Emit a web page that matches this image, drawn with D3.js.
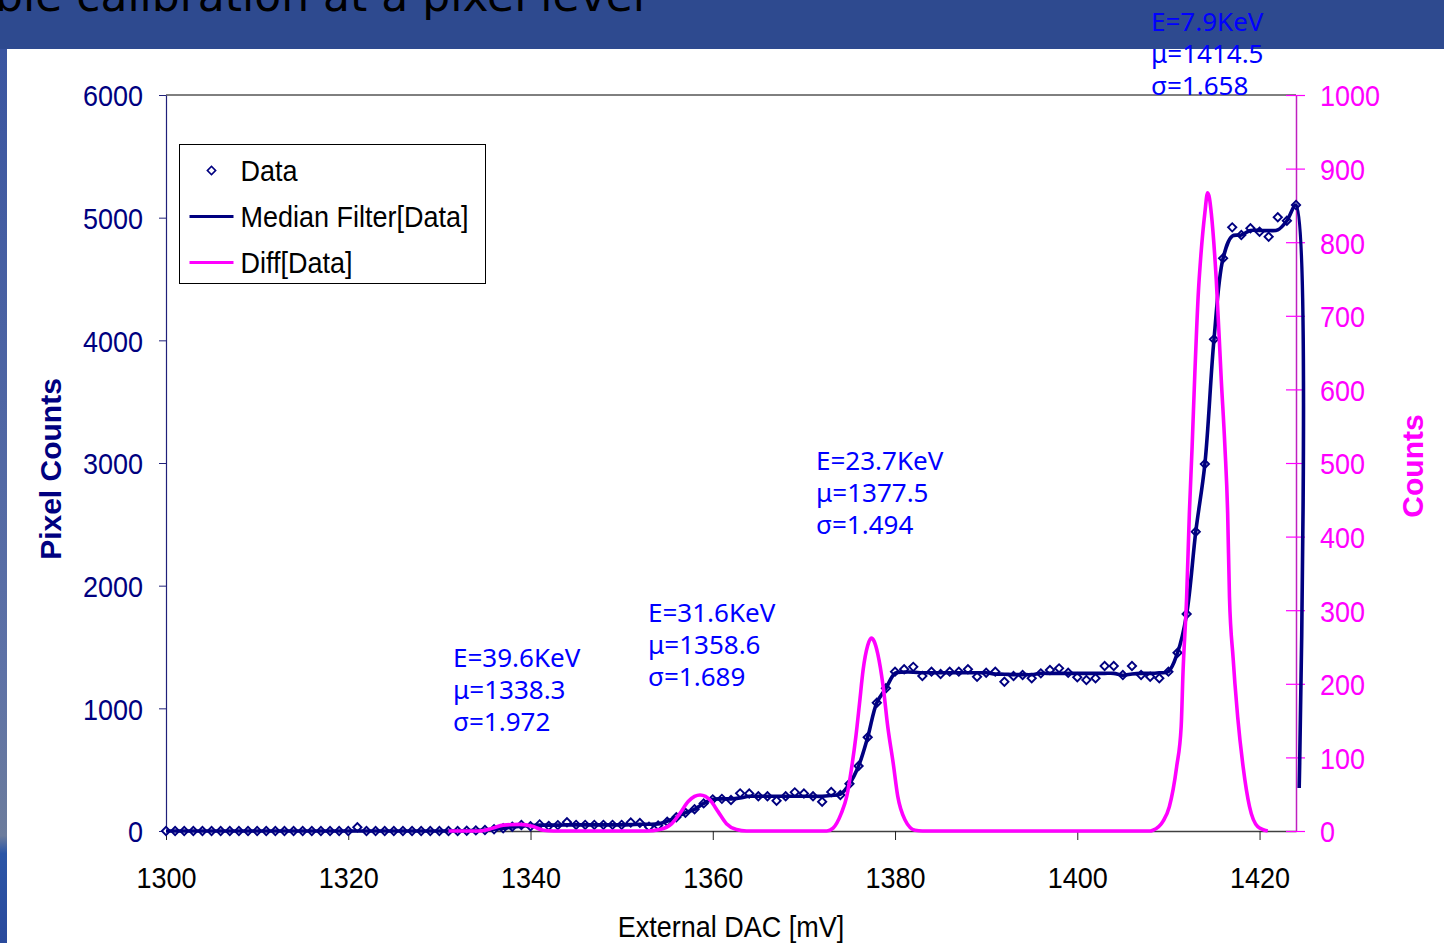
<!DOCTYPE html>
<html>
<head>
<meta charset="utf-8">
<script src="https://cdn.jsdelivr.net/npm/d3@7"></script>
<style>
  body { margin: 0; background: #fff; }
  svg { display: block; }
</style>
</head>
<body>
<svg id="chart" width="1444" height="943"></svg>
<script>
// ---- data ----
const xTicks = [1300, 1320, 1340, 1360, 1380, 1400, 1420]
const leftTicks = [0, 1000, 2000, 3000, 4000, 5000, 6000]
const rightTicks = [0, 100, 200, 300, 400, 500, 600, 700, 800, 900, 1000]

// DAC scan, one point per mV
const dac = d3.range(1300, 1425)

const dataCounts = [
  0, 0, 0, 0, 0, 0, 0, 0, 0, 0,
  0, 0, 0, 0, 0, 0, 0, 0, 0, 0,
  0, 30, 0, 0, 0, 0, 0, 0, 0, 0,
  0, 0, 0, 2, 5, 8, 14, 22, 35, 49,
  38, 54, 42, 48, 71, 50, 50, 50, 50, 50,
  50, 69, 66, 35, 45, 76, 112, 149, 177, 225,
  258, 262, 253, 307, 305, 283, 283, 247, 283, 315,
  305, 283, 239, 318, 293, 385, 530, 764, 1046, 1163,
  1299, 1318, 1338, 1264, 1299, 1280, 1299, 1299, 1318, 1258,
  1290, 1299, 1217, 1264, 1272, 1245, 1285, 1312, 1326, 1290,
  1253, 1231, 1245, 1345, 1345, 1272, 1345, 1272, 1258, 1245,
  1299, 1453, 1769, 2440, 2992, 4008, 4669, 4921, 4859, 4913,
  4885, 4845, 5003, 4975, 5103
]

const medianCounts = [
  0, 0, 0, 0, 0, 0, 0, 0, 0, 0,
  0, 0, 0, 0, 0, 0, 0, 0, 0, 0,
  0, 0, 0, 0, 0, 0, 0, 0, 0, 0,
  0, 0, 0, 2, 5, 8, 14, 22, 33, 40,
  45, 48, 48, 48, 50, 50, 50, 50, 50, 50,
  50, 52, 55, 55, 58, 80, 112, 149, 177, 225,
  258, 262, 262, 270, 283, 283, 283, 283, 283, 283,
  283, 283, 283, 290, 300, 385, 530, 764, 1046, 1163,
  1285, 1295, 1295, 1290, 1290, 1290, 1290, 1290, 1290, 1290,
  1290, 1280, 1278, 1275, 1275, 1275, 1285, 1285, 1285, 1285,
  1285, 1285, 1285, 1285, 1285, 1270, 1280, 1285, 1285, 1290,
  1300, 1453, 1769, 2440, 2992, 4008, 4669, 4850, 4859, 4895,
  4895, 4895, 4900, 4975, 5103
]
// the filtered curve falls off just past the last DAC step
const medianTail = [[1424.35, 350]]

// Diff[Data] (right axis)
const diffPoints = [
  [1331, 0], [1334.4, 0], [1335.9, 4], [1337.0, 8], [1338.8, 9], [1340.3, 6], [1341.4, 1], [1342.5, 0],
  [1352.7, 0], [1354.2, 2], [1355.5, 10], [1356.4, 24], [1357.3, 40], [1358.0, 47], [1358.6, 49],
  [1359.2, 47], [1359.7, 42], [1360.6, 26], [1361.5, 10], [1362.6, 2], [1363.7, 0],
  [1372.5, 0], [1373.2, 4], [1374.1, 24], [1374.7, 47], [1375.2, 83], [1375.7, 128], [1376.1, 173],
  [1376.5, 219], [1377.0, 252], [1377.4, 262], [1377.7, 258], [1378.1, 241], [1378.7, 196],
  [1379.2, 142], [1379.8, 92], [1380.3, 47], [1381.1, 15], [1382.2, 1], [1383.0, 0],
  [1408.0, 0], [1408.3, 1], [1409.4, 13], [1410.1, 33], [1410.9, 87], [1411.4, 142], [1411.6, 215],
  [1412.0, 318], [1412.3, 432], [1412.6, 522], [1412.9, 622], [1413.3, 735], [1413.5, 772],
  [1414.0, 840], [1414.3, 867], [1414.5, 860], [1414.7, 840], [1415.25, 749], [1415.8, 613],
  [1416.2, 522], [1416.5, 432], [1416.7, 318], [1417.1, 235], [1417.3, 200], [1417.6, 155],
  [1418.2, 87], [1418.9, 33], [1419.8, 6], [1420.9, 0]
]

// fit results written on the chart
const peakEnergy = ['39.6', '31.6', '23.7', '7.9']
const peakMu = ['1338.3', '1358.6', '1377.5', '1414.5']
const peakSigma = ['1.972', '1.689', '1.494', '1.658']

const legendLabels = ['Data', 'Median Filter[Data]', 'Diff[Data]']

// ---- layout ----
const svg = d3.select('#chart')
const width = +svg.attr('width')
const height = +svg.attr('height')

const plot = { left: 166, right: 1296, top: 95, bottom: 831 }
const navy = '#000080'
const magenta = '#ff00ff'
const sansFont = "'Liberation Sans', Arial, sans-serif"
const squeeze = 0.9 // slide is a bit narrower than tall

// slide background
const defs = svg.append('defs')
const strip = defs.append('linearGradient')
    .attr('id', 'strip')
    .attr('x1', 0).attr('x2', 0).attr('y1', 0).attr('y2', 1)
strip.append('stop').attr('offset', '0%').attr('stop-color', '#3a55a0')
strip.append('stop').attr('offset', '70%').attr('stop-color', '#5e72a6')
strip.append('stop').attr('offset', '88%').attr('stop-color', '#6c7c9c')
strip.append('stop').attr('offset', '90%').attr('stop-color', '#2a55a6')
strip.append('stop').attr('offset', '100%').attr('stop-color', '#2a4a9c')

svg.append('rect').attr('width', width).attr('height', height).attr('fill', '#fff')
svg.append('rect').attr('width', width).attr('height', 49).attr('fill', '#2e4a8f')
svg.append('rect').attr('y', 49).attr('width', 7).attr('height', height - 49).attr('fill', 'url(#strip)')

svg.append('text')
    .attr('x', 645)
    .attr('y', 11)
    .attr('text-anchor', 'end')
    .attr('font-family', "'DejaVu Sans', sans-serif")
    .attr('font-size', 44)
    .attr('fill', '#000')
    .text('ble calibration at a pixel level')

// scales
const x = d3.scaleLinear().domain([1300, 1424]).range([plot.left, plot.right])
const yLeft = d3.scaleLinear().domain([0, 6000]).range([plot.bottom, plot.top])
const yRight = d3.scaleLinear().domain([0, 1000]).range([plot.bottom, plot.top])

// top frame line
svg.append('line')
    .attr('x1', plot.left).attr('x2', plot.right)
    .attr('y1', plot.top).attr('y2', plot.top)
    .attr('stroke', '#000').attr('stroke-width', 1)

// x axis
const gx = svg.append('g')
    .attr('transform', `translate(0, ${plot.bottom})`)
    .call(d3.axisBottom(x).tickValues(xTicks).tickSize(9).tickSizeOuter(0).tickFormat(d3.format('d')))
gx.select('.domain').attr('stroke', '#404040').attr('stroke-width', 1.5)
gx.selectAll('.tick line').attr('stroke', '#202020')
gx.selectAll('.tick text')
    .attr('y', 57).attr('dy', null)
    .attr('transform', `scale(${squeeze},1)`)
    .attr('font-family', sansFont).attr('font-size', 30).attr('fill', '#000')

// left axis
const gyl = svg.append('g')
    .attr('transform', `translate(${plot.left}, 0)`)
    .call(d3.axisLeft(yLeft).tickValues(leftTicks).tickSize(7).tickSizeOuter(0).tickFormat(d3.format('d')))
gyl.select('.domain').attr('stroke', '#20207a').attr('stroke-width', 1.2)
gyl.selectAll('.tick line').attr('stroke', '#20207a')
gyl.selectAll('.tick text')
    .attr('x', -23 / squeeze).attr('dy', '0.36em')
    .attr('transform', `scale(${squeeze},1)`)
    .attr('font-family', sansFont).attr('font-size', 30).attr('fill', navy)

// right axis (ticks cross the line)
const gyr = svg.append('g')
    .attr('transform', `translate(${plot.right}, 0)`)
    .call(d3.axisRight(yRight).tickValues(rightTicks).tickSize(9).tickSizeOuter(0).tickFormat(d3.format('d')))
gyr.select('.domain').attr('stroke', '#c020c0').attr('stroke-width', 1.5)
gyr.selectAll('.tick line').attr('x1', -10).attr('stroke', magenta).attr('stroke-width', 1.2)
gyr.selectAll('.tick text')
    .attr('x', 24 / squeeze).attr('dy', '0.36em')
    .attr('transform', `scale(${squeeze},1)`)
    .attr('font-family', sansFont).attr('font-size', 30).attr('fill', magenta)

// axis titles
svg.append('text')
    .attr('transform', 'translate(61, 469) rotate(-90)')
    .attr('text-anchor', 'middle')
    .attr('font-family', sansFont).attr('font-size', 30).attr('font-weight', 'bold')
    .attr('fill', navy)
    .text('Pixel Counts')

svg.append('text')
    .attr('transform', 'translate(1423, 466) rotate(-90)')
    .attr('text-anchor', 'middle')
    .attr('font-family', sansFont).attr('font-size', 30).attr('font-weight', 'bold')
    .attr('fill', magenta)
    .text('Counts')

svg.append('text')
    .attr('transform', `translate(731, 937) scale(${squeeze},1)`)
    .attr('text-anchor', 'middle')
    .attr('font-family', sansFont).attr('font-size', 30)
    .attr('fill', '#000')
    .text('External DAC [mV]')

// ---- series ----
const rows = dac.map((d, i) => ({ dac: d, data: dataCounts[i], median: medianCounts[i] }))

const diamond = d3.symbol().type(d3.symbolSquare).size(34)

svg.append('g')
    .selectAll('path')
    .data(rows)
    .enter().append('path')
        .attr('d', diamond)
        .attr('transform', d => `translate(${x(d.dac)}, ${yLeft(d.data)}) rotate(45)`)
        .attr('fill', '#fff')
        .attr('stroke', navy)
        .attr('stroke-width', 1.9)

const medianLine = d3.line()
    .x(d => x(d[0]))
    .y(d => yLeft(d[1]))
    .curve(d3.curveCatmullRom.alpha(0.5))

svg.append('path')
    .attr('d', medianLine(rows.map(d => [d.dac, d.median]).concat(medianTail)))
    .attr('fill', 'none')
    .attr('stroke', navy)
    .attr('stroke-width', 3.6)
    .attr('stroke-linejoin', 'round')

const diffLine = d3.line()
    .x(d => x(d[0]))
    .y(d => yRight(d[1]))
    .curve(d3.curveMonotoneX)

svg.append('path')
    .attr('d', diffLine(diffPoints))
    .attr('fill', 'none')
    .attr('stroke', magenta)
    .attr('stroke-width', 3.6)
    .attr('stroke-linejoin', 'round')

// ---- fit annotations ----
const labelPos = [[453, 667], [648, 622], [816, 470], [1151, 31]]
const lineGap = 32
const noteFont = "'Comic Sans MS', 'Noto Sans', sans-serif"

peakEnergy.forEach((e, i) => {
    const [lx, ly] = labelPos[i]
    const lines = [`E=${e}KeV`, `\u03bc=${peakMu[i]}`, `\u03c3=${peakSigma[i]}`]
    svg.append('g')
        .attr('font-family', noteFont).attr('font-size', 26)
        .attr('fill', '#0000ff')
        .selectAll('text')
        .data(lines)
        .enter().append('text')
            .attr('x', lx)
            .attr('y', (d, k) => ly + k * lineGap)
            .text(d => d)
})

// ---- legend ----
const legend = svg.append('g').attr('transform', 'translate(179.5, 144.5)')
legend.append('rect')
    .attr('width', 306).attr('height', 139)
    .attr('fill', '#fff').attr('stroke', '#000').attr('stroke-width', 1)

legendLabels.forEach((label, i) => {
    const ly = 26 + i * 46
    if (i === 0) {
        legend.append('path')
            .attr('d', diamond)
            .attr('transform', `translate(32, ${ly}) rotate(45)`)
            .attr('fill', '#fff').attr('stroke', navy).attr('stroke-width', 1.6)
    } else {
        legend.append('line')
            .attr('x1', 10).attr('x2', 54)
            .attr('y1', ly).attr('y2', ly)
            .attr('stroke', i === 1 ? navy : magenta)
            .attr('stroke-width', 3)
    }
    legend.append('text')
        .attr('transform', `translate(61, ${ly}) scale(${squeeze},1)`)
        .attr('dy', '0.36em')
        .attr('font-family', sansFont).attr('font-size', 30)
        .attr('fill', '#000')
        .text(label)
})
</script>
</body>
</html>
